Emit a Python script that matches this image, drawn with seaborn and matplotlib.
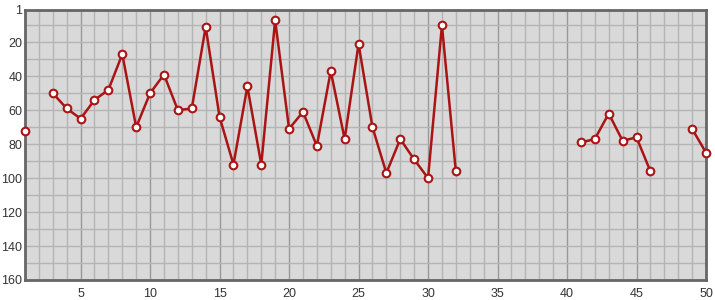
import numpy as np
import pandas as pd
import matplotlib
matplotlib.use("Agg")
import matplotlib.pyplot as plt
import seaborn as sns

x_values = list(range(1, 51))
rank_values = [72, None, 50, 59, 65, 54, 48, 27, 70, 50,
               39, 60, 59, 11, 64, 92, 46, 92, 7, 71,
               61, 81, 37, 77, 21, 70, 97, 77, 89, 100,
               10, 96, None, None, None, None, None, None, None, None,
               79, 77, 62, 78, 76, 96, None, None, 71, 85]
y_ticks = [1, 20, 40, 60, 80, 100, 120, 140, 160]
x_ticks = [5, 10, 15, 20, 25, 30, 35, 40, 45, 50]

df = pd.DataFrame({"x": x_values, "rank": [np.nan if v is None else v for v in rank_values]})
df["segment"] = df["rank"].isna().cumsum()
df = df.dropna()

sns.set_style("white")
plt.rcParams['font.family'] = ['Liberation Sans', 'DejaVu Sans']

fig = plt.figure(figsize=(7.15, 3.0), dpi=100)
ax = fig.add_axes([25/715, 20/300, 681/715, 270/300])
ax.set_facecolor("#d9d9d9")

sns.lineplot(data=df, x="x", y="rank", units="segment", estimator=None,
             color="#aa1414", linewidth=1.8, marker="o", markersize=5.5,
             markerfacecolor="white", markeredgecolor="#aa1414", markeredgewidth=1.5,
             ax=ax, zorder=5, clip_on=False)

ax.set_xlim(1, 50)
ax.set_ylim(160, 1)
ax.set_xticks(x_ticks)
ax.set_xticks(range(1, 51), minor=True)
ax.set_yticks(y_ticks)
ax.set_yticks(list(range(10, 160, 10)), minor=True)
ax.grid(which="minor", color="#b4b4b4", linewidth=1.0, zorder=0)
ax.grid(which="major", axis="y", color="#b4b4b4", linewidth=1.0, zorder=0)
ax.grid(which="major", axis="x", color="#999999", linewidth=1.0, zorder=0)
ax.set_axisbelow(True)
ax.tick_params(which="both", length=0, labelsize=9, labelcolor="#333333")
ax.tick_params(axis="x", pad=6)
ax.tick_params(axis="y", pad=2)
ax.set_xlabel("")
ax.set_ylabel("")
for side in ["left", "bottom", "right", "top"]:
    ax.spines[side].set_visible(True)
    ax.spines[side].set_color("#666666")
    ax.spines[side].set_linewidth(2.0)

fig.savefig("out.png", dpi=100)
